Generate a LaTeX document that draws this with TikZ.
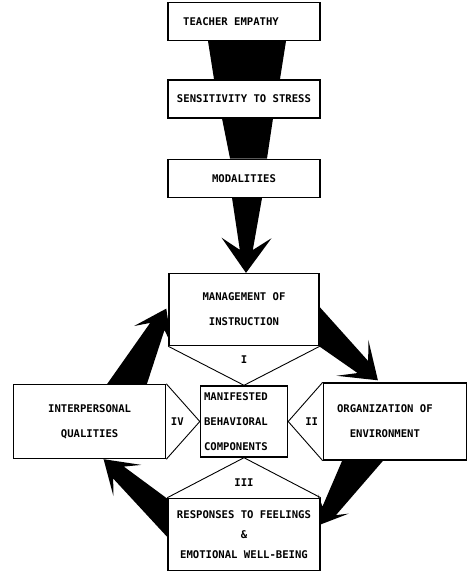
\documentclass[tikz,border=0pt]{standalone}
\usepackage{fontspec}
\usepackage{tikz}
\usetikzlibrary{positioning, calc, backgrounds}
\newfontfamily\typefont{DejaVu Sans Mono}

\newcommand{\blockarrow}[7]{%
  \coordinate (ba-neck) at ($(#2)!#6!(#1)$);
  \coordinate (ba-barb) at ($(#2)!#7!(#1)$);
  \fill ($(#1)!#3!90:(#2)$) -- ($(ba-neck)!#4!90:(#2)$) -- ($(ba-barb)!#5!90:(#2)$)
    -- (#2) -- ($(ba-barb)!#5!-90:(#2)$) -- ($(ba-neck)!#4!-90:(#2)$)
    -- ($(#1)!#3!-90:(#2)$) -- cycle;
}

\begin{document}
\begin{tikzpicture}[x=1pt, y=-1pt,
  box/.style={draw, fill=white, line width=1.4pt, inner sep=3pt, align=center,
    font=\typefont\bfseries\fontsize{10.6}{25}\selectfont},
  stackbox/.style={box, minimum width=152pt, minimum height=38pt},
  numeral/.style={font=\typefont\bfseries\fontsize{10.6}{12}\selectfont},
  link/.style={line width=0.9pt}]
\useasboundingbox (0,0) rectangle (467,571);

\node[box, minimum width=87pt, minimum height=71pt, text width=80pt, align=left]
  (mbc) at (244,421.5) {MANIFESTED\\BEHAVIORAL\\COMPONENTS};
\node[box, minimum width=150pt, minimum height=72pt, above=39pt of mbc] (mgmt)
  {MANAGEMENT OF\\INSTRUCTION};
\node[stackbox, above=75pt of mgmt] (mod) {MODALITIES};
\node[stackbox, above=40pt of mod] (sts) {SENSITIVITY TO STRESS};
\node[stackbox, above=38pt of sts] (te) {TEACHER EMPATHY\hspace*{26pt}};
\node[box, minimum width=152pt, minimum height=74pt, left=33.5pt of mbc] (iq)
  {INTERPERSONAL\\QUALITIES};
\node[box, minimum width=143pt, minimum height=77pt, right=34.5pt of mbc] (org)
  {ORGANIZATION OF\hspace*{20pt}\\ENVIRONMENT\hspace*{20pt}};
\node[box, minimum width=152pt, minimum height=72pt, below=40pt of mbc,
      font=\typefont\bfseries\fontsize{10.6}{20}\selectfont] (resp)
  {RESPONSES TO FEELINGS\\\&\\EMOTIONAL WELL-BEING};

\draw[link] (mgmt.south west) -- (mbc.north) -- (mgmt.south east);
\draw[link] (org.north west) -- (mbc.east) -- (org.south west);
\draw[link] (resp.north west) -- (mbc.south) -- (resp.north east);
\draw[link] (iq.north east) -- (mbc.west) -- (iq.south east);

\node[numeral] (n1) at ($(mgmt.south)!0.33!(mbc.north)$) {I};
\node[numeral] (n2) at ($(mbc.east)!0.68!(org.west)$) {II};
\node[numeral] (n3) at ($(mbc.south)!0.62!(resp.north)$) {III};
\node[numeral] (n4) at ($(iq.east)!0.33!(mbc.west)$) {IV};

\begin{scope}[on background layer]
\fill ($(te.south)+(-36,0)$) -- ($(te.south)+(42,0)$)
  -- ($(sts.north)+(36,0)$) -- ($(sts.north)+(-30,0)$) -- cycle;
\fill ($(sts.south)+(-22,0)$) -- ($(sts.south)+(29,0)$)
  -- ($(mod.north)+(23,0)$) -- ($(mod.north)+(-14,0)$) -- cycle;
\coordinate (ta) at ($(mod.south)+(3,0)$);
\coordinate (tb) at ($(mgmt.north)+(2,0)$);
\coordinate (a1) at ($(mgmt.east)+(-15,6)$);
\coordinate (a2) at ($(org.north)+(-17,-2)$);
\coordinate (b1) at ($(org.south)+(-28,-10)$);
\coordinate (b2) at ($(resp.east)+(0,-10)$);
\coordinate (c1) at ($(resp.west)+(22,1.5)$);
\coordinate (c2) at ($(iq.south)+(14,0)$);
\coordinate (d1) at ($(iq.north)+(32,14)$);
\coordinate (d2) at ($(mgmt.west)+(-2,-1)$);
\blockarrow{ta}{tb}{15pt}{6.5pt}{25pt}{23pt}{35pt}
\blockarrow{a1}{a2}{17pt}{8pt}{24pt}{20pt}{34pt}
\blockarrow{b1}{b2}{19pt}{8pt}{18pt}{16pt}{24pt}
\blockarrow{c1}{c2}{17pt}{8pt}{21pt}{20pt}{32pt}
\blockarrow{d1}{d2}{20pt}{8pt}{21pt}{20pt}{30pt}
\end{scope}
\end{tikzpicture}
\end{document}
